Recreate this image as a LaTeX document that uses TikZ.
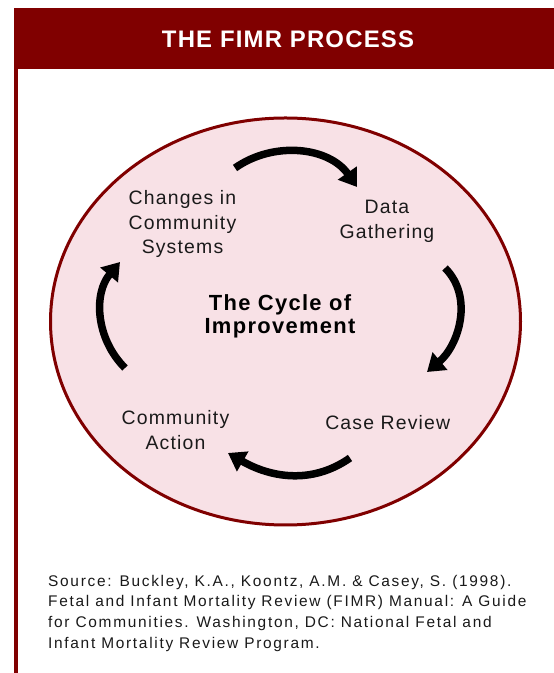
\documentclass[tikz,border=0pt]{standalone}
\usepackage{fontspec}
\setmainfont{Liberation Sans}
\newfontfamily\titlefont[LetterSpace=5]{Liberation Sans}
\newfontfamily\labelfont[LetterSpace=6]{Liberation Sans}
\newfontfamily\sourcefont[LetterSpace=11]{Liberation Sans}
\usetikzlibrary{arrows.meta}

\definecolor{fimrred}{RGB}{128,0,0}
\definecolor{fimrpink}{RGB}{248,225,230}
\definecolor{fimrtext}{RGB}{26,26,26}

\tikzset{
  titletext/.style={text=white, inner sep=0pt, font=\titlefont\bfseries\fontsize{24}{28}\selectfont},
  steplabel/.style={align=center, inner sep=0pt, text=fimrtext, font=\labelfont\fontsize{19.5}{25}\selectfont},
  cyclelabel/.style={align=center, inner sep=0pt, text=black, font=\labelfont\bfseries\fontsize{22}{23}\selectfont},
  sourcetext/.style={align=left, anchor=west, inner sep=0pt, text=fimrtext, font=\sourcefont\fontsize{15.5}{20.8}\selectfont},
  cyclearrow/.style={line width=0.264584cm, -{Triangle[length=0.600000cm,width=0.780000cm]}},
}

\begin{document}
\begin{tikzpicture}
            \useasboundingbox (0,0) rectangle (19.543900,23.741959);
            \fill [white] (0,0) rectangle (19.543900,23.741959);%
            
            % Drawing title bar and left border
            \fill [fimrred] (0.493889,21.307791) rectangle (19.543900,23.459737);%
            \fill [fimrred] (0.493889,0.000000) rectangle (0.635000,21.307791);%
            \draw (10.160006,22.366125) node (title) [titletext] { THE FIMR PROCESS };%
            
            % Drawing the cycle ellipse
            \draw [line width=0.105833cm, draw=fimrred, fill=fimrpink] (10.071812,12.400147) ellipse [x radius=8.290283, y radius=7.179032];%
            
            % Marking the four steps
            \draw (6.438199,15.839732) node (changes) [steplabel] { Changes in\\Community\\Systems };%
            \draw (13.652509,15.945566) node (gathering) [steplabel] { Data\\Gathering };%
            \draw (13.793620,8.819450) node (review) [steplabel] { Case Review };%
            \draw (6.191254,8.572505) node (action) [steplabel] { Community\\Action };%
            
            % Marking the centre
            \draw (9.877784,12.576536) node (cycle) [cyclelabel] { The Cycle of\\Improvement };%
            
            % Drawing the arrows of the cycle
            \coordinate (gathering-from) at (8.290283,17.815289);
            \coordinate (gathering-to) at (12.594175,17.145011);
            \coordinate (review-from) at (15.698621,14.287509);
            \coordinate (review-to) at (15.063621,10.618618);
            \coordinate (action-from) at (12.347230,7.584727);
            \coordinate (action-to) at (8.043338,7.761116);
            \coordinate (changes-from) at (4.409725,10.759729);
            \coordinate (changes-to) at (4.233336,14.499176);
            \draw [cyclearrow] (gathering-from) to [out=35,in=125] (gathering-to);%
            \draw [cyclearrow] (review-from) to [out=-45,in=40] (review-to);%
            \draw [cyclearrow] (action-from) to [out=-145,in=-30] (action-to);%
            \draw [cyclearrow] (changes-from) to [out=135,in=-130] (changes-to);%
            
            % Marking the source
            \draw (1.693334,2.107848) node (source) [sourcetext] {Source: Buckley, K.A., Koontz, A.M. \& Casey, S. (1998).\\Fetal and Infant Mortality Review (FIMR) Manual: A Guide\\for Communities. Washington, DC: National Fetal and\\Infant Mortality Review Program.};%
\end{tikzpicture}
\end{document}
